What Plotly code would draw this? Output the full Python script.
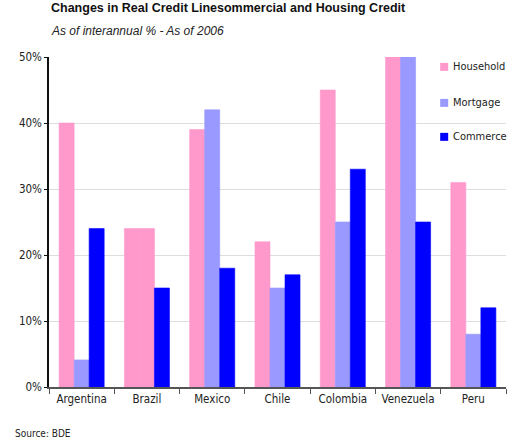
import plotly.graph_objects as go

countries = ["Argentina", "Brazil", "Mexico", "Chile", "Colombia", "Venezuela", "Peru"]
household = [40, 24, 39, 22, 45, 50, 31]
mortgage = [4.1, 24, 42, 15, 25, 50, 8]
commerce = [24, 15, 18, 17, 33, 25, 12]
y_ticks = [0, 10, 20, 30, 40, 50]
y_tick_labels = ["0%", "10%", "20%", "30%", "40%", "50%"]

PINK = "#FF99CC"
LAVENDER = "#9999FF"
BLUE = "#0000FF"
FONT = "Liberation Sans"
LABEL_FONT = "DejaVu Sans Condensed, DejaVu Sans"
series = [("Household", household, PINK), ("Mortgage", mortgage, LAVENDER),
          ("Commerce", commerce, BLUE)]

# Brazil's mortgage bar is shown in the household colour
mortgage_colors = [PINK if c == "Brazil" else LAVENDER for c in countries]

fig = go.Figure()
for name, vals, col in series:
    colors = mortgage_colors if name == "Mortgage" else col
    fig.add_trace(go.Bar(name=name, x=countries, y=vals,
                         marker=dict(color=colors, line=dict(width=0.6, color=colors))))

# Legend drawn as a white panel over the grid with coloured swatches
legend_x = 0.856
legend_rows = [0.970, 0.861, 0.758]
shapes = [dict(type="rect", xref="paper", yref="paper", layer="between",
               x0=0.838, x1=1.01, y0=0.715, y1=1.005,
               fillcolor="white", line=dict(width=0))]
annotations = []
for (name, _, col), ry in zip(series, legend_rows):
    shapes.append(dict(type="rect", xref="paper", yref="paper", layer="above",
                       x0=legend_x, x1=legend_x + 0.0175,
                       y0=ry - 0.0121, y1=ry + 0.0121,
                       fillcolor=col, line=dict(width=0)))
    annotations.append(dict(text=name, xref="paper", yref="paper",
                            x=legend_x + 0.023, y=ry, xanchor="left", yanchor="middle",
                            showarrow=False,
                            font=dict(family=LABEL_FONT, size=11, color="#222222")))

annotations += [
    dict(text="<b>Changes in Real Credit Linesommercial and Housing Credit</b>",
         xref="paper", yref="paper", x=0, y=1, yshift=40,
         xanchor="left", yanchor="bottom", showarrow=False,
         font=dict(family=FONT, size=12.5, color="#111111")),
    dict(text="<i>As of interannual % - As of 2006</i>",
         xref="paper", yref="paper", x=0, y=1, yshift=17,
         xanchor="left", yanchor="bottom", showarrow=False,
         font=dict(family=FONT, size=12, color="#222222")),
    dict(text="Source: BDE", xref="paper", yref="paper",
         x=0, y=0, xshift=-36, yshift=-54,
         xanchor="left", yanchor="bottom", showarrow=False,
         font=dict(family=LABEL_FONT, size=10, color="#222222")),
]

fig.update_layout(
    width=508, height=439,
    margin=dict(l=49, r=2, t=57, b=52),
    paper_bgcolor="white", plot_bgcolor="white",
    barmode="group", bargap=0.31, bargroupgap=0,
    font=dict(family=LABEL_FONT, size=11, color="#222222"),
    showlegend=False,
    xaxis=dict(showline=True, linecolor="#555555", linewidth=1.5,
               ticks="outside", tickson="boundaries", ticklen=5,
               tickcolor="#555555", showgrid=False, tickangle=0,
               tickfont=dict(family=LABEL_FONT, size=11.5, color="#222222")),
    yaxis=dict(range=[0, 50], tickvals=y_ticks, ticktext=y_tick_labels,
               showline=True, linecolor="#111111", linewidth=1.5,
               ticks="outside", ticklen=3, tickcolor="#111111",
               showgrid=True, gridcolor="#DDDDDD", gridwidth=1,
               zeroline=False,
               tickfont=dict(family=LABEL_FONT, size=11.5, color="#222222")),
    shapes=shapes,
    annotations=annotations,
)

fig.write_html("out.html")
